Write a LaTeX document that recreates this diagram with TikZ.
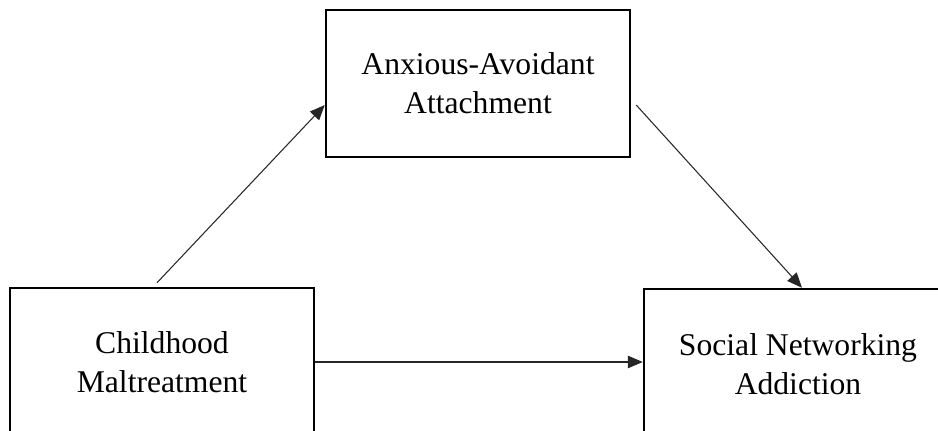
\documentclass[tikz,border=0pt]{standalone}
\usepackage{fontspec}
\setmainfont{Liberation Serif}
\usetikzlibrary{arrows.meta}
\tikzset{
	varbox/.style={draw,line width=1.4pt,minimum width=6.08cm,minimum height=2.96cm,align=center,font=\fontsize{18}{22.2}\selectfont},
	path/.style={->,line width=0.6pt,black!85}
}
\begin{document}
\begin{tikzpicture}[line join=miter,>={Triangle[length=0.3cm,width=0.25cm]},x=1cm,y=1cm]
		\useasboundingbox (0,0) rectangle (18.76,8.6);
		\clip (0,0) rectangle (18.76,8.6);
		\node[varbox,minimum height=2.94cm] (aaa) at (9.56,6.93) {Anxious-Avoidant\\Attachment};
		\node[varbox] (cm) at (3.24,1.36) {Childhood\\Maltreatment};
		\node[varbox,minimum width=6.16cm,minimum height=3cm] (sna) at (15.96,1.32) {Social Networking\\Addiction};
		\draw[path] ([xshift=-0.1cm,yshift=0.08cm]cm.north)--(aaa.188);
		\draw[path] ([xshift=0.1cm]aaa.-8)--(sna.87);
		\draw[path] (cm.east)--(sna.west |- cm.east);
		\end{tikzpicture}
\end{document}
